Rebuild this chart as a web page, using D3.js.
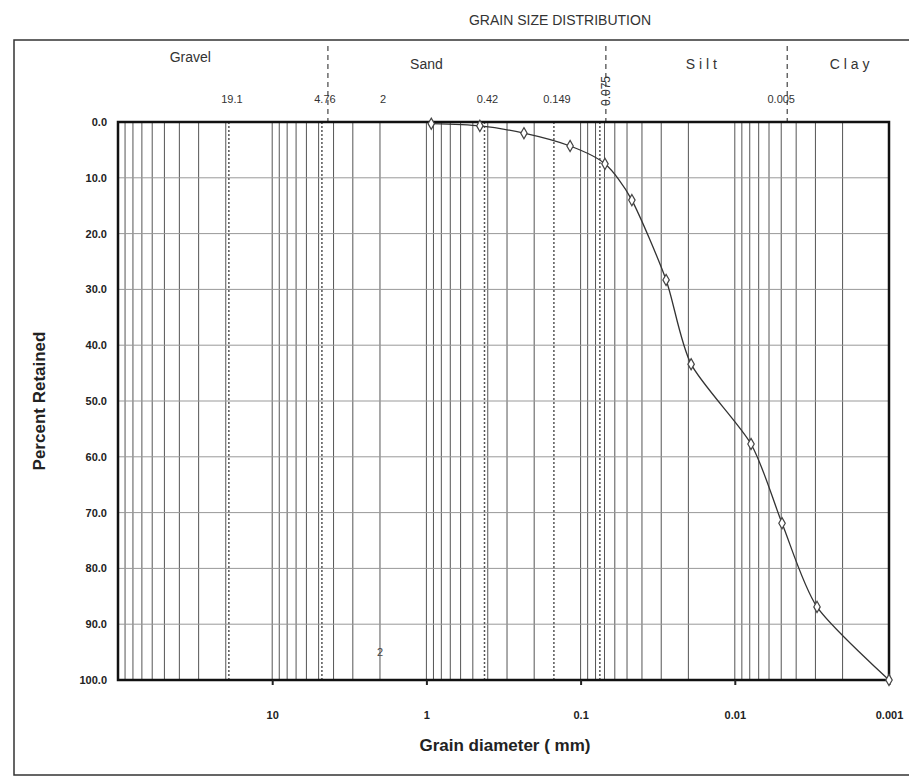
<!DOCTYPE html>
<html>
<head>
<meta charset="utf-8">
<script src="https://cdn.jsdelivr.net/npm/d3@7"></script>
<style>
  body { margin: 0; background: #fff; }
  text { font-family: "Liberation Sans", Arial, sans-serif; }
</style>
</head>
<body>
<div id="chart"></div>
<script>
// sample
const diameters = [0.93, 0.45, 0.233, 0.117, 0.0695, 0.0465, 0.0279, 0.0192, 0.00785, 0.00494, 0.00293, 0.001];
const retained = [0.3, 0.7, 2.0, 4.3, 7.5, 14.0, 28.3, 43.4, 57.7, 71.9, 86.9, 100];

const xTicks = [10, 1, 0.1, 0.01, 0.001];
const xTickLabels = ["10", "1", "0.1", "0.01", "0.001"];
const yTicks = [0, 10, 20, 30, 40, 50, 60, 70, 80, 90, 100];

// sieve sizes marked along the top
const sieveSizes = [19.1, 4.76, 2, 0.42, 0.149, 0.075, 0.005];
const sieveLabels = ["19.1", "4.76", "2", "0.42", "0.149", "0.075", "0.005"];
// zone names and their centre diameters
const zoneNames = ["Gravel", "Sand", "S i l t", "C l a y"];
const zoneCentres = [34, 1.0, 0.0165, 0.0018];
const zoneBounds = [4.76, 0.075, 0.005];

const width = 909;
const height = 784;
const marginLeft = 118;
const marginRight = 20;
const marginTop = 122;
const marginBottom = 104;
const scanShift = 6; // the boundary dashes sit a little right of their scale value in the scan

const svg = d3.select("#chart")
  .append("svg")
  .attr("width", width)
  .attr("height", height);

const x = d3.scaleLog([100, 0.001], [marginLeft, width - marginRight]);
const y = d3.scaleLinear([0, 100], [marginTop, height - marginBottom]);

// outer frame of the scanned sheet
svg.append("rect")
  .attr("x", 14).attr("y", 40)
  .attr("width", width - 14 + 4).attr("height", 735)
  .attr("fill", "none").attr("stroke", "#333").attr("stroke-width", 1.5);

svg.append("text")
  .attr("x", 560).attr("y", 25)
  .attr("text-anchor", "middle")
  .attr("font-size", 14).attr("fill", "#333")
  .text("GRAIN SIZE DISTRIBUTION");

// minor log grid
let minor = [];
for (let k = -3; k <= 1; k++) {
  for (let n = 1; n <= 9; n++) {
    let v = n * Math.pow(10, k);
    if (v > 0.001 && v < 100) minor.push(v);
  }
}
svg.append("g")
  .selectAll("line")
  .data(minor)
  .join("line")
  .attr("x1", d => x(d)).attr("x2", d => x(d))
  .attr("y1", y(0)).attr("y2", y(100))
  .attr("stroke", "#555").attr("stroke-width", 1);

svg.append("g")
  .selectAll("line")
  .data(yTicks.slice(1, -1))
  .join("line")
  .attr("x1", x(100)).attr("x2", x(0.001))
  .attr("y1", d => y(d)).attr("y2", d => y(d))
  .attr("stroke", "#999").attr("stroke-width", 1);

// sieve lines inside the plot (dotted)
svg.append("g")
  .selectAll("line")
  .data([19.1, 4.76, 0.42, 0.149, 0.075])
  .join("line")
  .attr("x1", d => x(d)).attr("x2", d => x(d))
  .attr("y1", y(0)).attr("y2", y(100))
  .attr("stroke", "#555").attr("stroke-width", 1.5)
  .attr("stroke-dasharray", "2,2");

// zone boundaries above the plot (dashed)
svg.append("g")
  .selectAll("line")
  .data(zoneBounds)
  .join("line")
  .attr("x1", d => x(d) + scanShift).attr("x2", d => x(d) + scanShift)
  .attr("y1", 46).attr("y2", y(0))
  .attr("stroke", "#444").attr("stroke-width", 1.2)
  .attr("stroke-dasharray", "5,4");

// zone names
svg.append("g")
  .selectAll("text")
  .data(zoneNames)
  .join("text")
  .attr("x", (d, i) => x(zoneCentres[i]))
  .attr("y", (d, i) => i === 0 ? 62 : 69)
  .attr("text-anchor", "middle")
  .attr("font-size", 14).attr("fill", "#333")
  .text(d => d);

// sieve size labels
svg.append("g")
  .selectAll("text")
  .data(sieveLabels)
  .join("text")
  .attr("transform", (d, i) => {
    if (d === "0.075") return `translate(${x(sieveSizes[i]) + scanShift + 4},${106}) rotate(-90)`;
    if (d === "0.005") return `translate(${x(sieveSizes[i])},${103})`;
    return `translate(${x(sieveSizes[i]) + 3},${103})`;
  })
  .attr("text-anchor", (d) => d === "0.075" ? "start" : "middle")
  .attr("font-size", (d) => d === "0.075" ? 12 : 11).attr("fill", "#333")
  .text(d => d);

// plot border
svg.append("rect")
  .attr("x", x(100)).attr("y", y(0))
  .attr("width", x(0.001) - x(100)).attr("height", y(100) - y(0))
  .attr("fill", "none").attr("stroke", "#111").attr("stroke-width", 2.5);

// stray label near the bottom
svg.append("text")
  .attr("x", x(2)).attr("y", 656)
  .attr("text-anchor", "middle")
  .attr("font-size", 11).attr("fill", "#444")
  .text("2");

// x axis
svg.append("g")
  .attr("transform", `translate(0,${y(100)})`)
  .call(d3.axisBottom(x).tickValues(xTicks).tickFormat((d, i) => xTickLabels[i]).tickSize(5).tickSizeOuter(0))
  .call(g => g.select(".domain").remove())
  .call(g => g.selectAll(".tick line").attr("stroke", "#222").attr("stroke-width", 2))
  .call(g => g.selectAll(".tick text")
    .attr("dy", 0).attr("y", 39)
    .attr("font-family", "Liberation Sans, Arial, sans-serif")
    .attr("font-size", 11).attr("font-weight", "bold").attr("fill", "#222"));

// y axis
svg.append("g")
  .attr("transform", `translate(${x(100)},0)`)
  .call(d3.axisLeft(y).tickValues(yTicks).tickFormat(d3.format(".1f")).tickSize(0))
  .call(g => g.select(".domain").remove())
  .call(g => g.selectAll(".tick text")
    .attr("x", -11)
    .attr("font-family", "Liberation Sans, Arial, sans-serif")
    .attr("font-size", 11).attr("font-weight", "bold").attr("fill", "#222"));

svg.append("text")
  .attr("transform", `translate(45,${(y(0) + y(100)) / 2}) rotate(-90)`)
  .attr("text-anchor", "middle")
  .attr("font-size", 17).attr("font-weight", "bold").attr("fill", "#222")
  .text("Percent Retained");

svg.append("text")
  .attr("x", 505).attr("y", 751)
  .attr("text-anchor", "middle")
  .attr("font-size", 17).attr("font-weight", "bold").attr("fill", "#222")
  .text("Grain diameter ( mm)");

// the curve, smoothed like a spreadsheet line
let lineData = diameters.map((d, i) => ({ d: d, v: retained[i] }));
let line = d3.line()
  .x(p => x(p.d))
  .y(p => y(p.v))
  .curve(d3.curveCardinal.tension(0.25));

svg.append("path")
  .attr("fill", "none")
  .attr("stroke", "#333")
  .attr("stroke-width", 1.3)
  .attr("d", line(lineData));

svg.append("g")
  .selectAll("path")
  .data(lineData)
  .join("path")
  .attr("transform", p => `translate(${x(p.d)},${y(p.v)})`)
  .attr("d", d3.symbol(d3.symbolDiamond, 36))
  .attr("fill", "#fff")
  .attr("stroke", "#444")
  .attr("stroke-width", 1.2);
</script>
</body>
</html>
